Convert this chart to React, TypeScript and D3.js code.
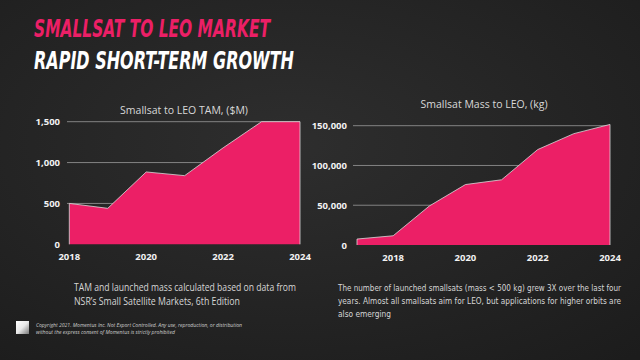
import React from "react";
import * as d3 from "d3";

const tamYears = [2018, 2019, 2020, 2021, 2022, 2023, 2024];
const tamValues = [500, 440, 885, 840, 1180, 1500, 1500];
const tamTicks = [0, 500, 1000, 1500];
const tamYearTicks = [2018, 2020, 2022, 2024];

const massYears = [2017, 2018, 2019, 2020, 2021, 2022, 2023, 2024];
const massValues = [7500, 11600, 49000, 76000, 82000, 120000, 140000, 151600];
const massTicks = [0, 50000, 100000, 150000];
const massYearTicks = [2018, 2020, 2022, 2024];

const PINK = "#ec1f66";
const fmt = d3.format(",");

type PanelProps = {
  years: number[];
  values: number[];
  ticks: number[];
  yearTicks: number[];
  x0: number; x1: number; y0: number; y1: number;
  yMax: number;
  gridX0: number;
  labelX: number;
  title: string;
  titleX: number;
  titleY: number;
};

function Panel(p: PanelProps) {
  const x = d3.scaleLinear().domain([p.years[0], p.years[p.years.length - 1]]).range([p.x0, p.x1]);
  const y = d3.scaleLinear().domain([0, p.yMax]).range([p.y0, p.y1]);
  const data = p.years.map((yr, i) => ({ yr, v: p.values[i] }));
  const area = d3.area<{ yr: number; v: number }>().x(d => x(d.yr)).y0(y(0)).y1(d => y(d.v));
  const outline = d3.line<{ yr: number; v: number }>().x(d => x(d.yr)).y(d => y(d.v));
  const first = data[0], last = data[data.length - 1];
  const outlinePath = `M${x(first.yr)},${y(0)}L${x(first.yr)},${y(first.v)}` + (outline(data) as string).replace(/^M/, "L") + `L${x(last.yr)},${y(0)}`;
  return (
    <g>
      <text x={p.titleX} y={p.titleY} fill="#d8d8d8" fontSize={10.5} textAnchor="middle" fontFamily="'Open Sans', sans-serif">{p.title}</text>
      {p.ticks.map(t => (
        <g key={t}>
          {t > 0 && <line x1={p.gridX0} x2={p.x1} y1={y(t)} y2={y(t)} stroke="#9a9a9a" strokeWidth={0.8} />}
          <text x={p.labelX} y={y(t) + 3.5} fill="#f2f2f2" fontSize={9.5} fontWeight="bold" textAnchor="end" fontFamily="'Open Sans', sans-serif">{fmt(t)}</text>
        </g>
      ))}
      <path d={area(data) as string} fill={PINK} />
      <path d={outlinePath} fill="none" stroke="#d9d9d9" strokeWidth={0.8} />
      {p.yearTicks.map(t => (
        <text key={t} x={x(t)} y={p.y0 + 16} fill="#f2f2f2" fontSize={9.5} fontWeight="bold" textAnchor="middle" fontFamily="'Open Sans', sans-serif">{t}</text>
      ))}
    </g>
  );
}

export default function App() {
  return (
    <svg width={640} height={360} style={{ position: "absolute", left: 0, top: 0 }}>
      <defs>
        <radialGradient id="bg" cx="0.45" cy="0.4" r="0.8">
          <stop offset="0" stopColor="#2e2e2e" />
          <stop offset="1" stopColor="#1c1c1c" />
        </radialGradient>
        <linearGradient id="logo" x1="0" y1="0" x2="1" y2="1">
          <stop offset="0" stopColor="#ffffff" />
          <stop offset="0.5" stopColor="#e8e8e8" />
          <stop offset="1" stopColor="#777" />
        </linearGradient>
      </defs>
      <rect width={640} height={360} fill="url(#bg)" />
      <text x={34} y={37} fill={PINK} fontSize={24} fontWeight="bold" fontStyle="italic" fontFamily="'DejaVu Sans Condensed', 'DejaVu Sans', sans-serif" fontStretch="condensed" textLength={236} lengthAdjust="spacingAndGlyphs">SMALLSAT TO LEO MARKET</text>
      <text x={34} y={69} fill="#ffffff" fontSize={24} fontWeight="bold" fontStyle="italic" fontFamily="'DejaVu Sans Condensed', 'DejaVu Sans', sans-serif" fontStretch="condensed" textLength={260} lengthAdjust="spacingAndGlyphs">RAPID SHORT-TERM GROWTH</text>

      <Panel years={tamYears} values={tamValues} ticks={tamTicks} yearTicks={tamYearTicks}
        x0={69.3} x1={300} y0={244.3} y1={121.7} yMax={1500} gridX0={67} labelX={60}
        title="Smallsat to LEO TAM, ($M)" titleX={184} titleY={114} />
      <Panel years={massYears} values={massValues} ticks={massTicks} yearTicks={massYearTicks}
        x0={357} x1={610} y0={245} y1={125.7} yMax={150000} gridX0={353} labelX={347}
        title="Smallsat Mass to LEO, (kg)" titleX={484} titleY={108} />

      <g fill="#d6d6d6" fontSize={10} fontFamily="'Open Sans', sans-serif">
        <text x={74} y={291} textLength={222} lengthAdjust="spacingAndGlyphs">TAM and launched mass calculated based on data from</text>
        <text x={74} y={305} textLength={166} lengthAdjust="spacingAndGlyphs">NSR’s Small Satellite Markets, 6th Edition</text>
      </g>
      <g fill="#d6d6d6" fontSize={8.2} fontFamily="'DejaVu Sans Condensed', 'Open Sans', sans-serif" fontStretch="condensed">
        <text x={338} y={291} textLength={283} lengthAdjust="spacingAndGlyphs">The number of launched smallsats (mass &lt; 500 kg) grew 3X over the last four</text>
        <text x={338} y={304} textLength={283} lengthAdjust="spacingAndGlyphs">years. Almost all smallsats aim for LEO, but applications for higher orbits are</text>
        <text x={338} y={317} textLength={53} lengthAdjust="spacingAndGlyphs">also emerging</text>
      </g>
      <rect x={16} y={321} width={13} height={13} fill="url(#logo)" />
      <g fill="#cfcfcf" fontSize={5} fontStyle="italic" fontFamily="'Open Sans', sans-serif">
        <text x={36} y={327} textLength={206} lengthAdjust="spacingAndGlyphs">Copyright 2021. Momentus Inc. Not Export Controlled. Any use, reproduction, or distribution</text>
        <text x={36} y={334} textLength={139} lengthAdjust="spacingAndGlyphs">without the express consent of Momentus is strictly prohibited</text>
      </g>
    </svg>
  );
}
